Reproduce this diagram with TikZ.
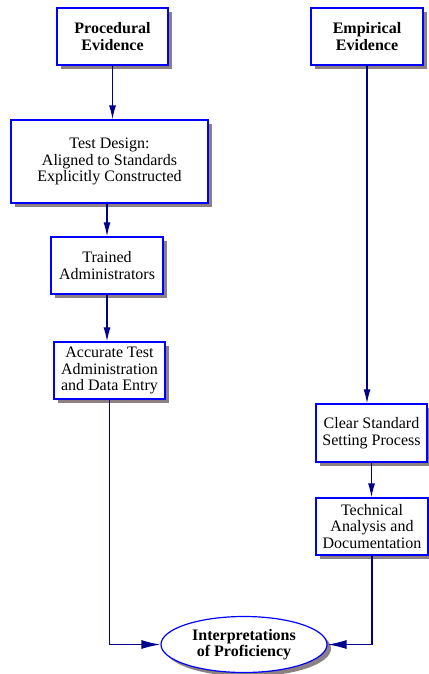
\documentclass[tikz,border=0pt]{standalone}
\usepackage{fontspec}
\setmainfont{Liberation Serif}
\usetikzlibrary{shapes.geometric,shadows,arrows.meta}
\definecolor{boxblue}{RGB}{0,0,255}
\definecolor{arrnavy}{RGB}{0,0,140}
\definecolor{shadowgray}{RGB}{140,128,128}
\begin{document}
\begin{tikzpicture}[x=1pt,y=-1pt,
  font=\fontsize{16}{16.5}\selectfont,
  box/.style={draw=boxblue, line width=1.2pt, fill=white, align=center, inner sep=0pt,
    drop shadow={shadow xshift=4pt, shadow yshift=-4pt, fill=shadowgray, opacity=1}},
  oval/.style={ellipse, draw=boxblue, line width=1.2pt, fill=white, align=center, inner sep=0pt,
    minimum width=166pt, minimum height=56pt, font=\fontsize{16}{16.5}\selectfont\bfseries,
    drop shadow={shadow xshift=4pt, shadow yshift=-4pt, fill=shadowgray, opacity=1}},
  conn/.style={draw=arrnavy, line width=1.3pt},
  varr/.style={conn, -{Latex[length=14pt,width=7pt]}},
  harr/.style={conn, -{Latex[length=19pt,width=9pt]}}]
\useasboundingbox (0,0) rectangle (428,674);
\node[box, minimum width=111pt, minimum height=57pt, font=\fontsize{16}{16.5}\selectfont\bfseries] (proc) at (112.5,36.5) {Procedural\\Evidence};
\node[box, minimum width=112pt, minimum height=57pt, font=\fontsize{16}{16.5}\selectfont\bfseries] (emp) at (367,36.5) {Empirical\\Evidence};
\node[box, minimum width=197pt, minimum height=83pt] (design) at (109.5,161.5) {Test Design:\\Aligned to Standards\\Explicitly Constructed};
\node[box, minimum width=112pt, minimum height=57pt] (trained) at (107,265.5) {Trained\\Administrators};
\node[box, minimum width=111pt, minimum height=57pt] (accurate) at (109.5,370.5) {Accurate Test\\Administration\\and Data Entry};
\node[box, minimum width=111pt, minimum height=58pt] (clear) at (371.5,433) {Clear Standard\\Setting Process};
\node[box, minimum width=112pt, minimum height=57pt] (tech) at (372,526.5) {Technical\\Analysis and\\Documentation};
\node[oval] (interp) at (244,644.5) {Interpretations\\of Proficiency};
\draw[varr] (proc.south) -- (design.north -| proc.south);
\draw[varr] (design.south -| trained.north) -- (trained.north);
\draw[varr] (trained.south) -- (accurate.north -| trained.south);
\draw[varr] (emp.south) -- (clear.north -| emp.south);
\draw[varr] (clear.south) -- (tech.north -| clear.south);
\draw[harr] (accurate.south) |- (interp.west);
\draw[harr] (tech.south) |- (interp.east);
\end{tikzpicture}
\end{document}
